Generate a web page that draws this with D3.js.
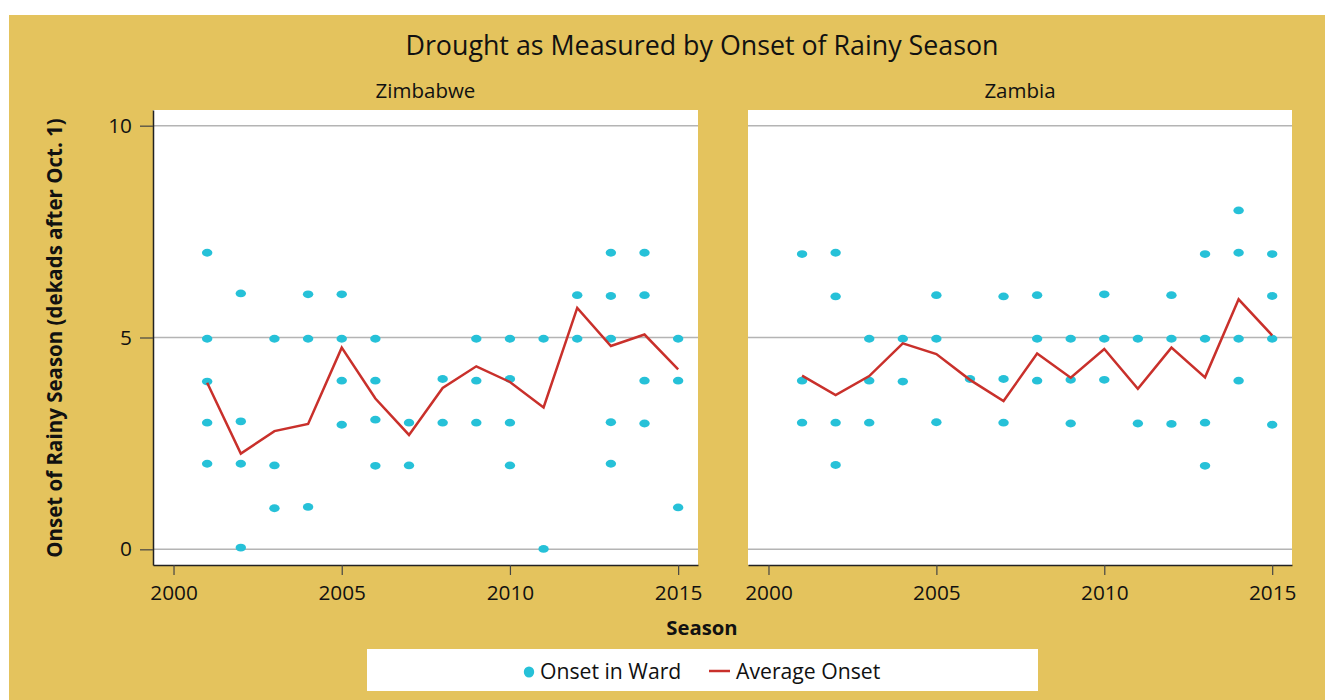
<!DOCTYPE html>
<html>
<head>
<meta charset="utf-8">
<script src="https://cdn.jsdelivr.net/npm/d3@7"></script>
<style>
  html, body { margin: 0; padding: 0; background: #ffffff; }
  svg { display: block; font-family: "Open Sans", "Noto Sans", sans-serif; }
</style>
</head>
<body>
<svg id="chart" width="1325" height="700"></svg>
<script>
// ---- data ----
const seasons = [2001, 2002, 2003, 2004, 2005, 2006, 2007, 2008, 2009, 2010, 2011, 2012, 2013, 2014, 2015];
const xTicks = [2000, 2005, 2010, 2015];
const yTicks = [0, 5, 10];

const zimbabweWards = [
  [7, 4.97, 3.96, 2.99, 2.02],
  [6.04, 3.02, 2.02, 0.04],
  [4.97, 1.98, 0.97],
  [6.02, 4.97, 1.0],
  [6.02, 4.97, 3.98, 2.94],
  [4.97, 3.98, 3.06, 1.97],
  [2.99, 1.98],
  [4.02, 2.99],
  [4.97, 3.98, 2.99],
  [4.97, 4.02, 2.99, 1.98],
  [4.97, 0.01],
  [6.0, 4.97],
  [7.0, 5.98, 4.97, 3.0, 2.02],
  [7.0, 6.0, 3.98, 2.97],
  [4.97, 3.98, 0.99]
];
const zimbabweAverage = [3.93, 2.26, 2.79, 2.96, 4.76, 3.56, 2.70, 3.81, 4.32, 3.95, 3.35, 5.70, 4.80, 5.07, 4.25];

const zambiaWards = [
  [6.97, 3.98, 2.99],
  [7.0, 5.97, 2.99, 1.99],
  [4.97, 3.98, 2.99],
  [4.97, 3.96],
  [6.0, 4.97, 3.0],
  [4.02],
  [5.97, 4.02, 2.99],
  [6.0, 4.97, 3.98],
  [4.97, 4.0, 2.97],
  [6.02, 4.97, 4.0],
  [4.97, 2.97],
  [6.0, 4.97, 2.96],
  [6.97, 4.97, 2.99, 1.97],
  [8.0, 7.0, 4.97, 3.98],
  [6.97, 5.98, 4.97, 2.94]
];
const zambiaAverage = [4.10, 3.64, 4.09, 4.86, 4.61, 4.00, 3.50, 4.62, 4.05, 4.73, 3.79, 4.76, 4.06, 5.90, 5.05];

const panelNames = ["Zimbabwe", "Zambia"];
const chartTitle = "Drought as Measured by Onset of Rainy Season";
const yTitle = "Onset of Rainy Season (dekads after Oct. 1)";
const xTitle = "Season";
const legendLabels = ["Onset in Ward", "Average Onset"];

// ---- style ----
const GOLD = "#E4C35D";
const DOT = "#26C1D8";
const LINE = "#C9302B";
const GRID = "#b4b4b4";
const TXT = "#111111";

const svg = d3.select("#chart");
svg.append("rect").attr("x", 9).attr("y", 15).attr("width", 1316).attr("height", 685).attr("fill", GOLD);

svg.append("text").attr("x", 702).attr("y", 55).attr("text-anchor", "middle")
  .attr("font-size", 26.8).attr("fill", TXT).text(chartTitle);

const plotTop = 110, plotBottom = 565;
const y = d3.scaleLinear().domain([-0.37, 10.37]).range([plotBottom, plotTop]);

const panels = [
  { name: panelNames[0], left: 153, right: 698, wards: zimbabweWards, avg: zimbabweAverage, yAxis: true },
  { name: panelNames[1], left: 748, right: 1292, wards: zambiaWards, avg: zambiaAverage, yAxis: false }
];

panels.forEach(p => {
  const x = d3.scaleLinear().domain([1999.39, 2015.59]).range([p.left, p.right]);
  const g = svg.append("g");
  g.append("rect").attr("x", p.left).attr("y", plotTop).attr("width", p.right - p.left).attr("height", plotBottom - plotTop).attr("fill", "#fff");

  // gridlines
  g.selectAll("line.grid").data(yTicks).join("line")
    .attr("x1", p.left).attr("x2", p.right)
    .attr("y1", d => y(d)).attr("y2", d => y(d))
    .attr("stroke", GRID).attr("stroke-width", 1.5);

  // title
  g.append("text").attr("x", (p.left + p.right) / 2).attr("y", 98).attr("text-anchor", "middle")
    .attr("font-size", 20.5).attr("fill", TXT).text(p.name);

  // x axis
  const xa = g.append("g").attr("transform", `translate(0,${plotBottom})`)
    .call(d3.axisBottom(x).tickValues(xTicks).tickFormat(d3.format("d")).tickSize(10).tickSizeOuter(0).tickPadding(5));
  xa.select(".domain").attr("stroke", "#222").attr("stroke-width", 1.5);
  xa.selectAll(".tick line").attr("stroke", "#444").attr("stroke-width", 1.2);
  xa.selectAll(".tick text").attr("font-size", 20.8).attr("fill", TXT).attr("dy", "0.95em")
    .attr("font-family", "\"Open Sans\", sans-serif");

  if (p.yAxis) {
    const ya = g.append("g").attr("transform", `translate(${p.left},0)`)
      .call(d3.axisLeft(y).tickValues(yTicks).tickSize(13).tickSizeOuter(0).tickPadding(8));
    ya.select(".domain").attr("stroke", "#222").attr("stroke-width", 1.5);
    ya.selectAll(".tick line").attr("stroke", "#444").attr("stroke-width", 1.2);
    ya.selectAll(".tick text").attr("font-size", 20.8).attr("fill", TXT)
      .attr("font-family", "\"Open Sans\", sans-serif");
  }

  // dots
  const pts = [];
  p.wards.forEach((vals, i) => vals.forEach(v => pts.push({ s: seasons[i], v })));
  g.selectAll("ellipse").data(pts).join("ellipse")
    .attr("cx", d => x(d.s)).attr("cy", d => y(d.v))
    .attr("rx", 5.2).attr("ry", 3.9).attr("fill", DOT);

  // average line
  const line = d3.line().x((d, i) => x(seasons[i])).y(d => y(d));
  g.append("path").datum(p.avg).attr("d", line)
    .attr("fill", "none").attr("stroke", LINE).attr("stroke-width", 2.5).attr("stroke-linejoin", "miter");
});

// axis titles
svg.append("text").attr("transform", "translate(62,338) rotate(-90)").attr("text-anchor", "middle")
  .attr("font-size", 20.5).attr("font-weight", "bold").attr("fill", TXT).text(yTitle);
svg.append("text").attr("x", 702).attr("y", 635).attr("text-anchor", "middle")
  .attr("font-size", 20.3).attr("font-weight", "bold").attr("fill", TXT).text(xTitle);

// legend
const lg = svg.append("g");
lg.append("rect").attr("x", 367).attr("y", 649).attr("width", 671).attr("height", 42).attr("fill", "#fff");
lg.append("ellipse").attr("cx", 529).attr("cy", 672).attr("rx", 5.2).attr("ry", 5.5).attr("fill", DOT);
lg.append("text").attr("x", 540).attr("y", 679).attr("font-size", 21.2).attr("fill", TXT).text(legendLabels[0]);
lg.append("line").attr("x1", 709).attr("x2", 730).attr("y1", 671).attr("y2", 671)
  .attr("stroke", LINE).attr("stroke-width", 2.5);
lg.append("text").attr("x", 736).attr("y", 679).attr("font-size", 21.2).attr("fill", TXT).text(legendLabels[1]);
</script>
</body>
</html>
